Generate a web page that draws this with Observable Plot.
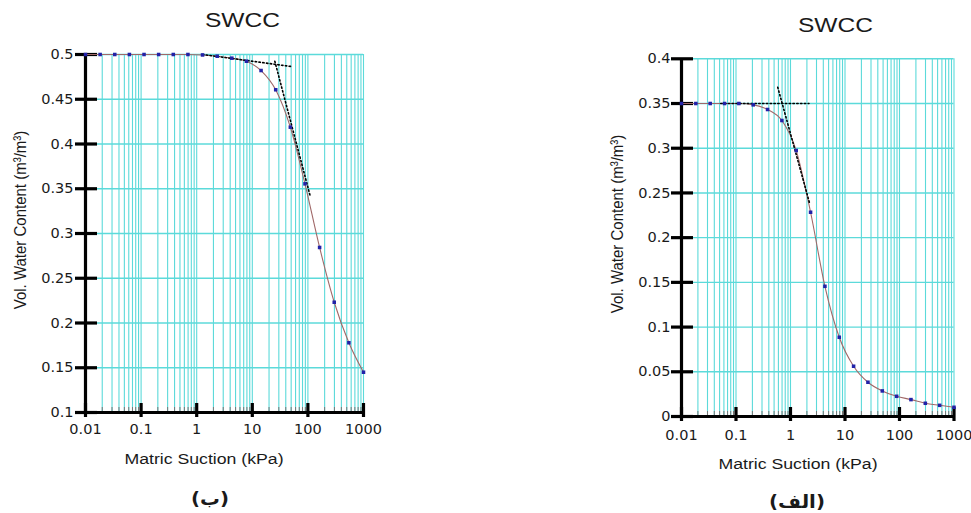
<!DOCTYPE html>
<html>
<head>
<meta charset="utf-8">
<script src="https://cdn.jsdelivr.net/npm/d3@7"></script>
<script src="https://cdn.jsdelivr.net/npm/@observablehq/plot@0.6"></script>
<style>
  html, body { margin: 0; padding: 0; background: #fff; }
  #wrap { position: relative; width: 971px; height: 513px; overflow: hidden; background: #fff; }
  #wrap > svg, #wrap > figure { position: absolute; top: 0; margin: 0; }
</style>
</head>
<body>
<div id="wrap"></div>
<script>
// ---------- data ----------
const xDomain = [0.01, 1000];
const xMajor = [0.01, 0.1, 1, 10, 100, 1000];
const suctionKPa = [0.01, 0.01833, 0.0336, 0.06158, 0.1129, 0.2069, 0.3793, 0.6952, 1.274, 2.336,
                    4.281, 7.848, 14.38, 26.37, 48.33, 88.59, 162.4, 297.6, 545.6, 1000];
// panel (ب)
const yTicksB = [0.1, 0.15, 0.2, 0.25, 0.3, 0.35, 0.4, 0.45, 0.5];
const thetaB = [0.5, 0.5, 0.5, 0.5, 0.5, 0.5, 0.5, 0.5, 0.4995, 0.4981,
                0.4959, 0.4925, 0.4821, 0.4606, 0.4188, 0.3555, 0.2844, 0.2232, 0.1779, 0.145];
const tangentB1x = [1.27, 50.1],  tangentB1y = [0.5, 0.4866];
const tangentB2x = [25.4, 111.4], tangentB2y = [0.4925, 0.3406];
// panel (الف)
const yTicksA = [0, 0.05, 0.1, 0.15, 0.2, 0.25, 0.3, 0.35, 0.4];
const thetaA = [0.35, 0.35, 0.35, 0.35, 0.35, 0.3485, 0.3433, 0.331, 0.2974, 0.2284,
                0.1456, 0.0886, 0.0562, 0.0383, 0.0286, 0.0226, 0.0189, 0.0148, 0.0125, 0.0103];
const tangentA1x = [0.0525, 2.18], tangentA1y = [0.35, 0.35];
const tangentA2x = [0.583, 2.25],  tangentA2y = [0.3682, 0.2381];

const titleText = "SWCC";
const xLabel = "Matric Suction (kPa)";
const yLabel = "Vol. Water Content (m³/m³)";
const captionB = "(ب)";
const captionA = "(الف)";

// ---------- helpers ----------
const gridColor = "#5cdada";
const minorAll = d3.scaleLog().domain(xDomain).ticks();
const minorOnly = minorAll.filter(v => !xMajor.some(m => Math.abs(Math.log10(v / m)) < 1e-6));
const pairs = (xs, ys) => xs.map((x, i) => ({x, y: ys[i]}));

function panel({w, ml, mr, mt, mb, yDomain, yTicks, theta, tangents, yPad, xPad}) {
  const h = 513;
  const pw = w - ml - mr, ph = h - mt - mb;
  const pts = pairs(suctionKPa, theta);
  return Plot.plot({
    width: w, height: h,
    marginLeft: ml, marginRight: mr, marginTop: mt, marginBottom: mb,
    x: {type: "log", domain: xDomain},
    y: {domain: yDomain},
    style: {fontFamily: "DejaVu Sans", fontSize: "14.5px", color: "#1a1a1a", background: "transparent", overflow: "visible"},
    marks: [
      Plot.gridX(minorAll, {stroke: gridColor, strokeOpacity: 1, strokeWidth: 1.1}),
      Plot.gridY(yTicks, {stroke: gridColor, strokeOpacity: 1, strokeWidth: 1.4}),
      Plot.tickX(minorOnly, {x: d => d, stroke: "#777", strokeWidth: 1, insetTop: ph - 5}),
      Plot.ruleX([xDomain[0]], {stroke: "#000", strokeWidth: 3.2}),
      Plot.ruleY([yDomain[0]], {stroke: "#000", strokeWidth: 3.2}),
      Plot.tickY(yTicks, {y: d => d, stroke: "#000", strokeWidth: 3.2, insetLeft: -10, insetRight: pw - 12}),
      Plot.tickX(xMajor, {x: d => d, stroke: "#000", strokeWidth: 3.2, insetTop: ph - 9, insetBottom: -5}),
      Plot.line(pts, {x: "x", y: "y", curve: "monotone-x", stroke: "#a06868", strokeWidth: 1.1}),
      ...tangents.map(t => Plot.line(t, {x: "x", y: "y", stroke: "#000", strokeWidth: 1.6, strokeDasharray: "1.4,2.4"})),
      Plot.dot(pts, {x: "x", y: "y", symbol: "square", r: 2, fill: "#2222a8"}),
      Plot.axisY(yTicks, {anchor: "left", tickSize: 0, tickPadding: yPad, label: null, fontSize: 14.5, tickFormat: d => String(d)}),
      Plot.axisX(xMajor, {anchor: "bottom", tickSize: 0, tickPadding: xPad, label: null, fontSize: 14.5, tickFormat: d => String(d)})
    ]
  });
}

const wrap = document.getElementById("wrap");

const left = panel({
  w: 480, ml: 85, mr: 480 - 363, mt: 54, mb: 513 - 412,
  yDomain: [0.1, 0.5], yTicks: yTicksB, theta: thetaB,
  tangents: [pairs(tangentB1x, tangentB1y), pairs(tangentB2x, tangentB2y)],
  yPad: 12, xPad: 11
});
left.style.left = "0px";
wrap.appendChild(left);

const right = panel({
  w: 491, ml: 681 - 480, mr: 491 - (953.5 - 480), mt: 58.3, mb: 513 - 416,
  yDomain: [0, 0.4], yTicks: yTicksA, theta: thetaA,
  tangents: [pairs(tangentA1x, tangentA1y), pairs(tangentA2x, tangentA2y)],
  yPad: 11, xPad: 13
});
right.style.left = "480px";
wrap.appendChild(right);

// ---------- overlay text ----------
const ov = d3.select(wrap).append("svg")
  .attr("width", 971).attr("height", 513)
  .style("position", "absolute").style("left", "0px").style("top", "0px")
  .style("pointer-events", "none");

function hText(str, cx, by, size, sx, family, weight) {
  ov.append("text")
    .attr("transform", `translate(${cx},${by}) scale(${sx},1)`)
    .attr("text-anchor", "middle")
    .attr("font-family", family).attr("font-size", size).attr("font-weight", weight || "normal")
    .attr("fill", "#1a1a1a")
    .text(str);
}
function vText(str, cx, cy, size, sy) {
  ov.append("text")
    .attr("transform", `translate(${cx},${cy}) rotate(-90) scale(1,${sy})`)
    .attr("text-anchor", "middle").attr("dy", "0.35em")
    .attr("font-family", "Liberation Sans").attr("font-size", size)
    .attr("fill", "#1a1a1a")
    .text(str);
}

hText(titleText, 242.5, 27, 21, 1.17, "Liberation Sans");
hText(titleText, 835.5, 32, 21, 1.17, "Liberation Sans");
vText(yLabel, 19.5, 220, 15, 1.15);
vText(yLabel, 617, 224, 15, 1.15);
hText(xLabel, 204, 464, 15, 1.18, "Liberation Sans");
hText(xLabel, 798, 469, 15, 1.18, "Liberation Sans");
hText(captionB, 210, 505, 18, 1.1, "DejaVu Sans", "bold");
hText(captionA, 797, 508, 18, 1.1, "DejaVu Sans", "bold");
</script>
</body>
</html>
